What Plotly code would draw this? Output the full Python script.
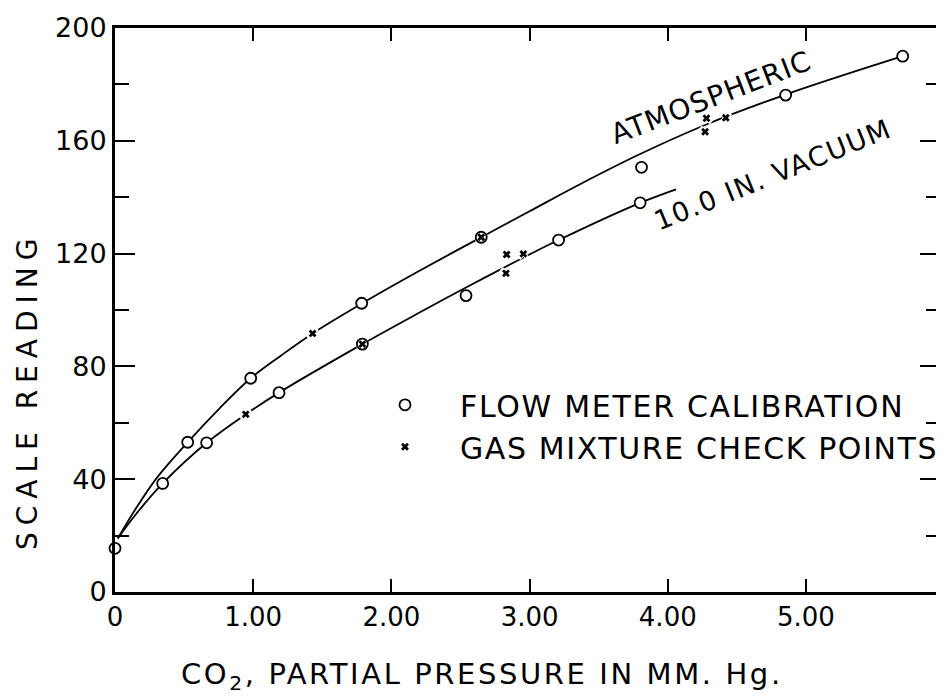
import plotly.graph_objects as go

# ---- data ----
# smooth calibration curves
atm_curve_x = [0.02, 0.15, 0.30, 0.526, 0.75, 0.982, 1.20, 1.43, 1.79, 2.20, 2.65, 3.00, 3.365, 3.80, 4.27, 4.853, 5.70]
atm_curve_y = [19.0, 29.5, 40.3, 53.1, 64.8, 75.8, 83.8, 91.7, 102.4, 113.8, 125.8, 135.0, 144.6, 155.3, 165.6, 176.4, 190.0]

vac_curve_x = [0.02, 0.15, 0.345, 0.663, 0.946, 1.187, 1.79, 2.20, 2.54, 2.90, 3.21, 3.80, 4.06]
vac_curve_y = [19.0, 27.5, 38.5, 52.9, 63.0, 70.7, 87.9, 99.0, 108.0, 117.2, 124.8, 138.0, 142.8]

# flow meter calibration points (circles)
flow_x = [0.0, 0.345, 0.526, 0.663, 0.982, 1.187, 1.785, 1.79, 2.54, 2.65, 3.21, 3.81, 3.80, 4.853, 5.70]
flow_y = [15.5, 38.5, 53.1, 52.9, 75.8, 70.7, 102.4, 87.9, 105.1, 125.8, 124.8, 150.6, 138.0, 176.2, 190.0]

# gas mixture check points (crosses)
gas_x = [0.946, 1.43, 1.79, 2.65, 2.834, 2.955, 2.829, 4.28, 4.27, 4.42]
gas_y = [63.0, 91.7, 87.9, 125.8, 119.7, 119.9, 113.0, 168.0, 163.2, 168.2]

x_tickvals = [0, 1, 2, 3, 4, 5]
x_ticktext = ["0", "1.00", "2.00", "3.00", "4.00", "5.00"]
y_tickvals = [0, 40, 80, 120, 160, 200]
y_ticktext = ["0", "40", "80", "120", "160", "200"]

FONT = "DejaVu Sans"

fig = go.Figure()

for cx, cy in [(atm_curve_x, atm_curve_y), (vac_curve_x, vac_curve_y)]:
    fig.add_trace(go.Scatter(
        x=cx, y=cy, mode="lines",
        line=dict(color="black", width=1.8, shape="spline", smoothing=1.0),
        showlegend=False, hoverinfo="skip"))

# white halo under crosses (breaks the curve around each cross)
fig.add_trace(go.Scatter(
    x=gas_x, y=gas_y, mode="markers",
    marker=dict(symbol="x", size=11, color="white", line=dict(width=0)),
    showlegend=False, hoverinfo="skip", cliponaxis=False))

fig.add_trace(go.Scatter(
    x=flow_x, y=flow_y, mode="markers",
    name='<span style="letter-spacing:1.7px">FLOW METER CALIBRATION</span>',
    marker=dict(symbol="circle", size=11, color="white",
                line=dict(color="black", width=1.8)),
    cliponaxis=False))

fig.add_trace(go.Scatter(
    x=gas_x, y=gas_y, mode="markers",
    name='<span style="letter-spacing:1.6px">GAS MIXTURE CHECK POINTS</span>',
    marker=dict(symbol="x", size=7, color="black", line=dict(width=0)),
    cliponaxis=False))

# the page body has an 8px default margin, so the figure is shifted by 8px;
# margins compensate so the plot frame lands where the reference has it.
fig.update_layout(
    width=944, height=696,
    margin=dict(l=107, r=12, t=20, b=112, autoexpand=False),
    paper_bgcolor="white", plot_bgcolor="white",
    font=dict(family=FONT, color="black"),
    showlegend=True,
    legend=dict(x=(350 - 115) / 825, xanchor="left", y=0.378, yanchor="top",
                font=dict(family=FONT, size=30, color="black"),
                itemwidth=100, bgcolor="rgba(0,0,0,0)", borderwidth=0),
    xaxis=dict(range=[0, 5.97], tickmode="array", tickvals=x_tickvals, ticktext=x_ticktext,
               ticks="inside", ticklen=13, tickwidth=2, tickcolor="black",
               showline=True, linewidth=3, linecolor="black", mirror="ticks",
               showgrid=False, zeroline=False, ticklabelstandoff=0, automargin=False,
               tickfont=dict(family=FONT, size=26, color="black")),
    yaxis=dict(range=[0, 200], tickmode="array", tickvals=y_tickvals, ticktext=y_ticktext,
               ticks="inside", ticklen=20, tickwidth=2, tickcolor="black",
               minor=dict(dtick=20, ticks="inside", ticklen=14, tickwidth=2,
                          tickcolor="black", showgrid=False),
               showline=True, linewidth=3, linecolor="black", mirror="ticks",
               showgrid=False, zeroline=False, ticklabelstandoff=0, automargin=False,
               tickfont=dict(family=FONT, size=27, color="black")),
)

annotations = [
    dict(text='<span style="letter-spacing:7px">SCALE READING</span>',
         xref="paper", yref="paper", x=(27 - 115) / 825, y=(592 - 391) / 564,
         xanchor="center", yanchor="middle", textangle=-90, showarrow=False,
         font=dict(family=FONT, size=28, color="black")),
    dict(text='<span style="letter-spacing:2.6px">CO<sub>2</sub>, PARTIAL PRESSURE IN MM. Hg.</span>',
         xref="paper", yref="paper", x=(482 - 115) / 825, y=(592 - 676) / 564,
         xanchor="center", yanchor="middle", showarrow=False,
         font=dict(family=FONT, size=29, color="black")),
    dict(text='<span style="letter-spacing:1px">ATMOSPHERIC</span>',
         xref="x", yref="y", x=4.313, y=175.5, textangle=-21, showarrow=False,
         xanchor="center", yanchor="middle",
         font=dict(family=FONT, size=28, color="black")),
    dict(text='<span style="letter-spacing:1.5px">10.0 IN. VACUUM</span>',
         xref="x", yref="y", x=4.761, y=148.2, textangle=-22, showarrow=False,
         xanchor="center", yanchor="middle",
         font=dict(family=FONT, size=27, color="black")),
]
fig.update_layout(annotations=annotations)

fig.write_html("out.html")
